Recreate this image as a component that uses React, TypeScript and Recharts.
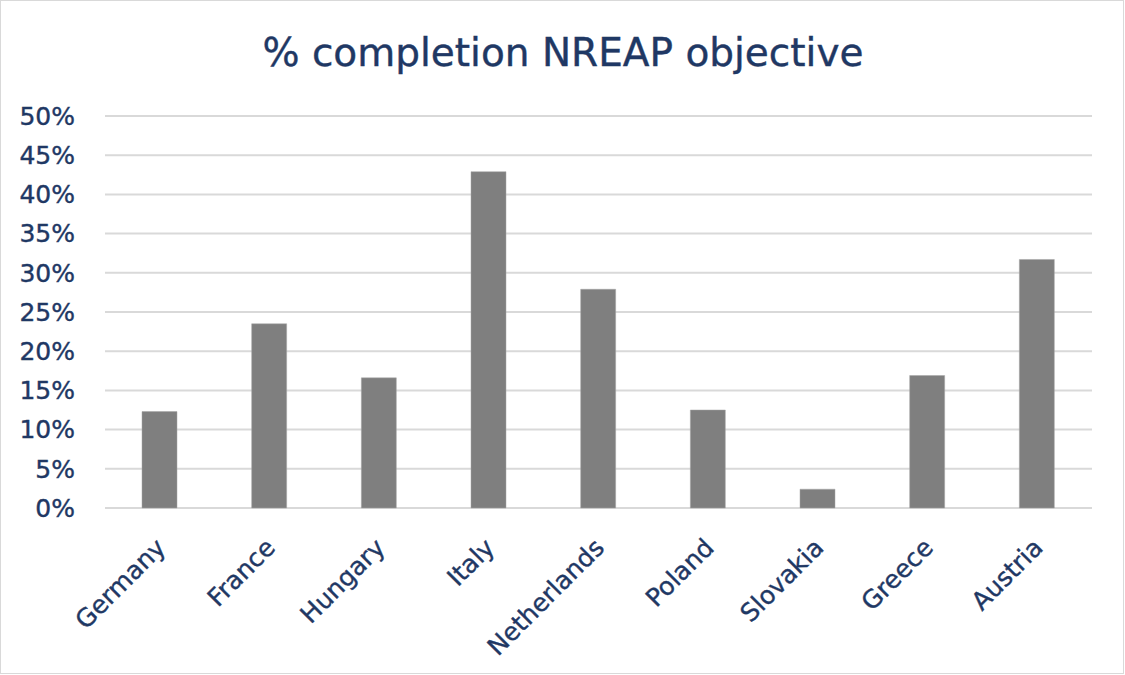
import { BarChart, Bar, XAxis, YAxis, CartesianGrid } from "recharts";

const countries = [
  "Germany",
  "France",
  "Hungary",
  "Italy",
  "Netherlands",
  "Poland",
  "Slovakia",
  "Greece",
  "Austria",
];

// share of the NREAP target reached, in percent
const completion = [12.3, 23.5, 16.6, 42.9, 27.9, 12.5, 2.4, 16.9, 31.7];

const yTicks = [0, 5, 10, 15, 20, 25, 30, 35, 40, 45, 50];

const data = countries.map((name, i) => ({ name, value: completion[i] }));

const NAVY = "#1f3864";
const FONT = "'DejaVu Sans', Verdana, sans-serif";

// thin outline in the text colour makes the labels a touch heavier
const textStyle = {
  fill: NAVY,
  stroke: NAVY,
  strokeWidth: 0.4,
  fontFamily: FONT,
};

const YTick = (props: any) => {
  const { x, y, payload } = props;
  return (
    <text
      x={x - 22}
      y={y}
      dy="0.35em"
      textAnchor="end"
      fontSize={25}
      {...textStyle}
    >
      {`${payload.value}%`}
    </text>
  );
};

const XTick = (props: any) => {
  const { x, y, payload } = props;
  return (
    <g transform={`translate(${x + 1},${y + 27})`}>
      <text
        textAnchor="end"
        dy="0.35em"
        transform="rotate(-45)"
        fontSize={25}
        {...textStyle}
      >
        {payload.value}
      </text>
    </g>
  );
};

export default function App() {
  return (
    <div
      style={{
        position: "absolute",
        left: 0,
        top: 0,
        width: 1124,
        height: 674,
        boxSizing: "border-box",
        border: "1px solid #d9d9d9",
        background: "#fff",
      }}
    >
      <svg
        width={1122}
        height={100}
        style={{ position: "absolute", left: 0, top: 0 }}
      >
        <text x={562} y={65} textAnchor="middle" fontSize={39} {...textStyle}>
          % completion NREAP objective
        </text>
      </svg>
      <BarChart
        width={1122}
        height={672}
        data={data}
        margin={{ top: 115, right: 31, bottom: 0, left: 0 }}
        barCategoryGap={0}
      >
        <CartesianGrid vertical={false} stroke="#d9d9d9" strokeWidth={2} />
        <XAxis
          dataKey="name"
          height={165}
          axisLine={false}
          tickLine={false}
          interval={0}
          tick={<XTick />}
        />
        <YAxis
          width={104}
          domain={[0, 50]}
          ticks={yTicks}
          axisLine={false}
          tickLine={false}
          tick={<YTick />}
        />
        <Bar
          dataKey="value"
          fill="#7f7f7f"
          stroke="#a6a6a6"
          strokeWidth={0.5}
          barSize={35}
          isAnimationActive={false}
        />
      </BarChart>
    </div>
  );
}
